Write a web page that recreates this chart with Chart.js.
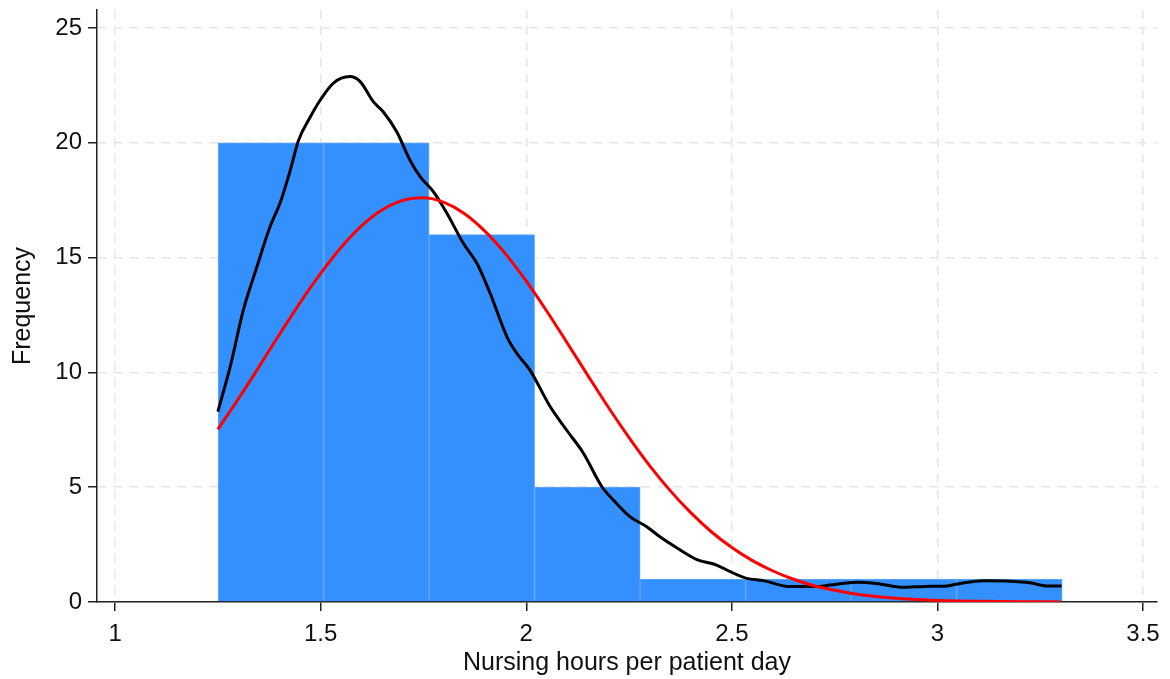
<!DOCTYPE html>
<html>
<head>
<meta charset="utf-8">
<script src="https://cdn.jsdelivr.net/npm/chart.js@4/dist/chart.umd.min.js"></script>
<style>
  html, body { margin: 0; padding: 0; background: #ffffff; }
  #wrap { width: 1170px; height: 679px; }
</style>
</head>
<body>
<div id="wrap"><canvas id="c" width="1170" height="679"></canvas></div>
<script>
// ---- Data ----
const binEdges = [1.2505, 1.5071, 1.7637, 2.0203, 2.2769, 2.5335, 2.7901, 3.0467, 3.3033];
const binCounts = [20, 20, 16, 5, 1, 1, 1, 1];

const kdeX = [1.250, 1.280, 1.312, 1.345, 1.377, 1.401, 1.426, 1.446, 1.474, 1.499, 1.531, 1.571, 1.596, 1.628, 1.652, 1.685, 1.717, 1.742, 1.774, 1.807, 1.847, 1.880, 1.912, 1.953, 1.977, 2.009, 2.058, 2.098, 2.139, 2.184, 2.212, 2.252, 2.293, 2.325, 2.367, 2.415, 2.463, 2.496, 2.536, 2.577, 2.642, 2.706, 2.739, 2.804, 2.852, 2.917, 2.970, 3.023, 3.055, 3.112, 3.168, 3.225, 3.266, 3.302];
const kdeY = [8.29, 10.25, 12.72, 14.6, 16.35, 17.36, 18.8, 20.1, 21.1, 21.86, 22.6, 22.88, 22.66, 21.79, 21.35, 20.48, 19.25, 18.52, 17.87, 16.93, 15.62, 14.75, 13.45, 11.55, 10.83, 10.1, 8.51, 7.49, 6.48, 5.02, 4.44, 3.72, 3.28, 2.84, 2.35, 1.85, 1.61, 1.32, 1.03, 0.93, 0.67, 0.67, 0.74, 0.86, 0.81, 0.64, 0.68, 0.70, 0.81, 0.93, 0.91, 0.84, 0.70, 0.70];

const normX = [1.25, 1.30, 1.35, 1.40, 1.45, 1.50, 1.55, 1.60, 1.65, 1.70, 1.75, 1.80, 1.85, 1.90, 1.95, 2.00, 2.05, 2.10, 2.15, 2.20, 2.25, 2.30, 2.35, 2.40, 2.45, 2.50, 2.55, 2.60, 2.65, 2.70, 2.75, 2.80, 2.85, 2.90, 2.95, 3.00, 3.05, 3.10, 3.15, 3.20, 3.25, 3.30];
const normY = [7.52, 8.85, 10.24, 11.66, 13.04, 14.31, 15.45, 16.39, 17.08, 17.49, 17.60, 17.40, 16.91, 16.14, 15.15, 13.97, 12.66, 11.27, 9.86, 8.47, 7.16, 5.94, 4.85, 3.89, 3.06, 2.37, 1.80, 1.35, 0.99, 0.71, 0.51, 0.35, 0.24, 0.16, 0.11, 0.07, 0.045, 0.03, 0.02, 0.012, 0.008, 0.005];

const xTicks = [1, 1.5, 2, 2.5, 3, 3.5];
const xTickLabels = ['1', '1.5', '2', '2.5', '3', '3.5'];
const yTicks = [0, 5, 10, 15, 20, 25];
const yTickLabels = ['0', '5', '10', '15', '20', '25'];

const xTitle = 'Nursing hours per patient day';
const yTitle = 'Frequency';

// ---- Build datasets ----
const barData = binCounts.map((c, i) => ({ x: (binEdges[i] + binEdges[i + 1]) / 2, y: c }));
const kdeData = kdeX.map((x, i) => ({ x: x, y: kdeY[i] }));
const normData = normX.map((x, i) => ({ x: x, y: normY[i] }));

const FONT = "'Liberation Sans', Arial, Helvetica, sans-serif";
const axisColor = '#222222';
const gridColor = '#e6e6e6';

new Chart(document.getElementById('c'), {
  type: 'bar',
  data: {
    datasets: [
      {
        type: 'line',
        data: normData,
        borderColor: '#ff0000',
        borderWidth: 3,
        pointRadius: 0,
        fill: false,
        cubicInterpolationMode: 'monotone',
        order: 1
      },
      {
        type: 'line',
        data: kdeData,
        borderColor: '#000000',
        borderWidth: 3,
        pointRadius: 0,
        fill: false,
        cubicInterpolationMode: 'monotone',
        order: 2
      },
      {
        type: 'bar',
        data: barData,
        backgroundColor: '#3490ff',
        borderColor: '#5ea8ff',
        borderWidth: 1,
        barPercentage: 1,
        categoryPercentage: 1,
        order: 3
      }
    ]
  },
  options: {
    responsive: false,
    animation: false,
    devicePixelRatio: 1,
    layout: { padding: { top: 10, right: 13, left: 0, bottom: 0 } },
    plugins: { legend: { display: false }, tooltip: { enabled: false } },
    scales: {
      x: {
        type: 'linear',
        min: 0.956,
        max: 3.534,
        offset: false,
        afterBuildTicks: (s) => { s.ticks = xTicks.map(v => ({ value: v })); },
        afterFit: (s) => { s.height = 77; s.paddingLeft = 0; s.paddingRight = 0; },
        ticks: {
          color: '#111111',
          font: { family: FONT, size: 24 },
          padding: 9,
          maxRotation: 0,
          autoSkip: false,
          callback: (v) => { const i = xTicks.indexOf(v); return i >= 0 ? xTickLabels[i] : ''; }
        },
        grid: {
          offset: false,
          color: gridColor,
          lineWidth: 1.5,
          drawTicks: true,
          tickLength: 9,
          tickColor: axisColor,
          tickWidth: 1.5
        },
        border: { display: true, color: axisColor, width: 1.5, dash: [9, 7] },
        title: {
          display: true,
          text: xTitle,
          color: '#111111',
          font: { family: FONT, size: 25, lineHeight: 1.2 },
          padding: { top: 0, bottom: 1 }
        }
      },
      y: {
        type: 'linear',
        min: 0,
        max: 25.78,
        afterBuildTicks: (s) => { s.ticks = yTicks.map(v => ({ value: v })); },
        afterFit: (s) => { s.width = 97; s.paddingTop = 0; s.paddingBottom = 0; },
        ticks: {
          color: '#111111',
          font: { family: FONT, size: 24 },
          padding: 6,
          autoSkip: false,
          callback: (v) => { const i = yTicks.indexOf(v); return i >= 0 ? yTickLabels[i] : ''; }
        },
        grid: {
          color: gridColor,
          lineWidth: 1.5,
          drawTicks: true,
          tickLength: 9,
          tickColor: axisColor,
          tickWidth: 1.5
        },
        border: { display: true, color: axisColor, width: 1.5, dash: [9, 7] },
        title: {
          display: true,
          text: yTitle,
          color: '#111111',
          font: { family: FONT, size: 25, lineHeight: 1.2 },
          padding: { top: 8, bottom: 0 }
        }
      }
    }
  }
});
</script>
</body>
</html>
